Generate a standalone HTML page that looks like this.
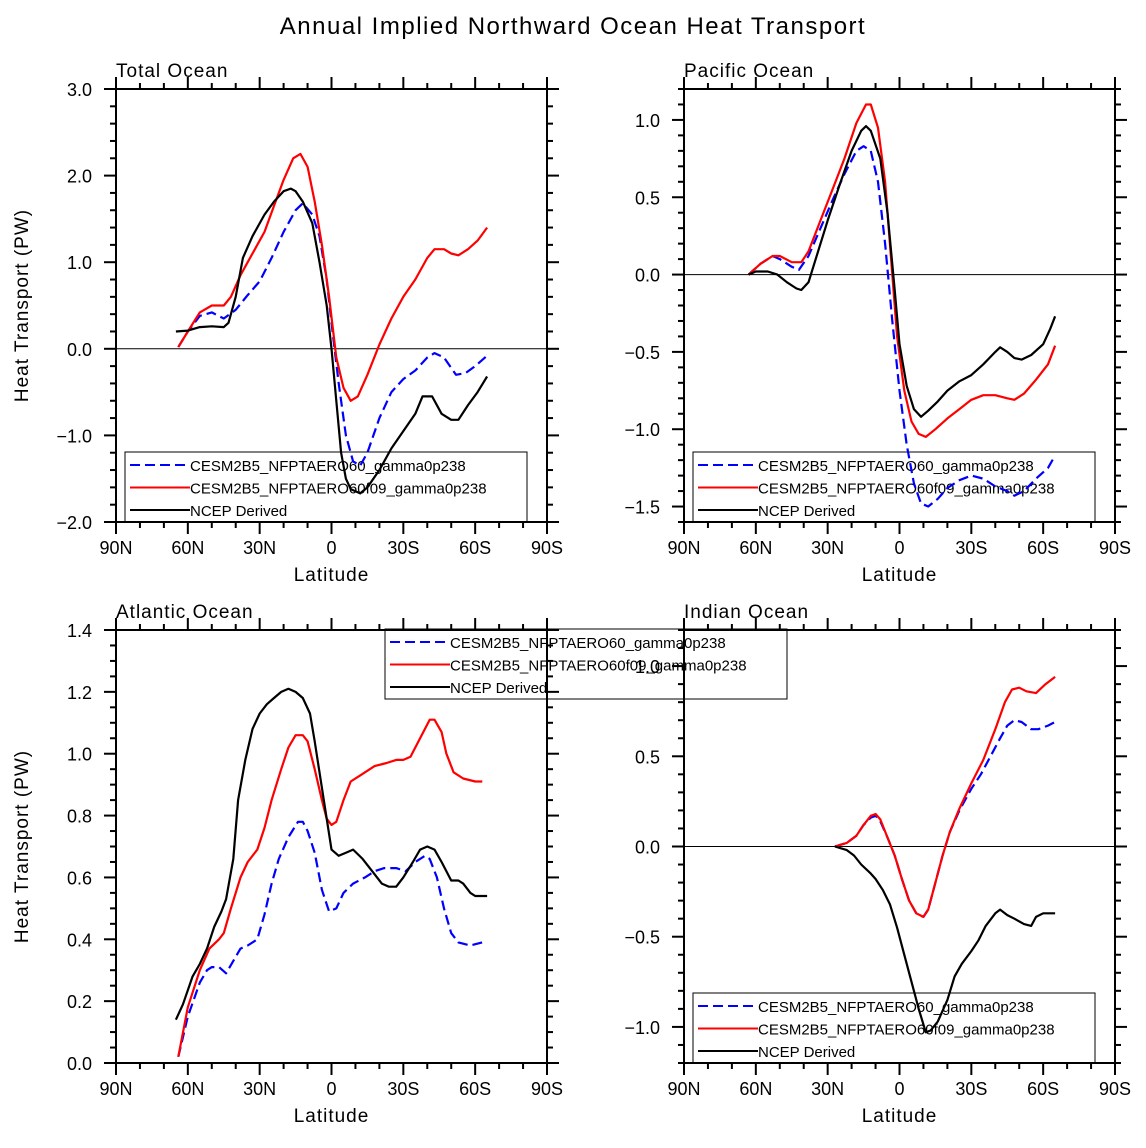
<!DOCTYPE html>
<html><head><meta charset="utf-8"><style>
body{margin:0;background:#fff}
svg{display:block;font-family:"Liberation Sans",sans-serif}
</style></head><body>
<svg id="c" width="1146" height="1148" viewBox="0 0 1146 1148" xmlns="http://www.w3.org/2000/svg">
<rect width="1146" height="1148" fill="#fff"/>
<text x="573" y="34" text-anchor="middle" font-size="24" fill="#000" letter-spacing="1.5">Annual Implied Northward Ocean Heat Transport</text>
</svg>
<script>
// Data (latitude, N positive) and values in PW
const totBlueLat=[64,60,55,50,45,40,35,30,25,20,15,12,8,5,2,0,-3,-6,-9,-12,-15,-20,-25,-30,-35,-40,-43,-47,-52,-56,-60,-65];
const totBlueVal=[0.02,0.2,0.38,0.42,0.35,0.45,0.62,0.78,1.05,1.35,1.6,1.68,1.55,1.3,0.8,0.3,-0.4,-1.0,-1.3,-1.35,-1.2,-0.8,-0.5,-0.35,-0.25,-0.1,-0.05,-0.1,-0.3,-0.28,-0.2,-0.08];
const totRedLat=[64,60,55,50,45,42,38,33,28,24,20,16,13,10,7,4,1,-2,-5,-8,-11,-15,-20,-25,-30,-35,-40,-43,-47,-50,-53,-57,-61,-65];
const totRedVal=[0.02,0.2,0.42,0.5,0.5,0.6,0.85,1.1,1.35,1.65,1.95,2.2,2.25,2.1,1.7,1.2,0.6,-0.1,-0.45,-0.6,-0.55,-0.3,0.05,0.35,0.6,0.8,1.05,1.15,1.15,1.1,1.08,1.15,1.25,1.4];
const totBlkLat=[65,60,55,50,45,43,40,37,33,28,24,20,17,15,12,8,5,2,0,-2,-4,-6,-8,-12,-15,-20,-25,-30,-35,-38,-42,-46,-50,-53,-57,-61,-65];
const totBlkVal=[0.2,0.21,0.25,0.26,0.25,0.3,0.6,1.05,1.3,1.55,1.7,1.82,1.85,1.82,1.7,1.45,1.0,0.5,0.0,-0.6,-1.2,-1.5,-1.62,-1.67,-1.6,-1.4,-1.15,-0.95,-0.75,-0.55,-0.55,-0.75,-0.82,-0.82,-0.65,-0.5,-0.32];

const pacBlueLat=[63,58,53,50,45,42,38,33,28,23,18,15,12,9,6,3,0,-3,-6,-9,-12,-16,-20,-25,-30,-35,-40,-45,-48,-52,-57,-62,-65];
const pacBlueVal=[0,0.07,0.12,0.1,0.05,0.03,0.12,0.3,0.48,0.65,0.8,0.83,0.8,0.6,0.2,-0.3,-0.75,-1.1,-1.35,-1.48,-1.5,-1.45,-1.38,-1.33,-1.3,-1.32,-1.37,-1.4,-1.43,-1.4,-1.32,-1.25,-1.17];
const pacRedLat=[63,58,53,50,45,41,38,33,28,23,18,14,12,9,6,3,1,-2,-5,-8,-11,-15,-20,-25,-30,-35,-40,-45,-48,-52,-57,-62,-65];
const pacRedVal=[0,0.07,0.12,0.12,0.08,0.08,0.15,0.35,0.55,0.75,0.98,1.1,1.1,0.95,0.6,0.0,-0.4,-0.75,-0.95,-1.03,-1.05,-1.0,-0.93,-0.87,-0.81,-0.78,-0.78,-0.8,-0.81,-0.77,-0.68,-0.58,-0.46];
const pacBlkLat=[63,60,55,51,47,43,41,38,35,30,25,20,16,14,12,8,5,2,0,-3,-6,-9,-12,-16,-20,-25,-30,-35,-40,-42,-45,-48,-51,-55,-60,-63,-65];
const pacBlkVal=[0,0.02,0.02,0,-0.05,-0.09,-0.1,-0.05,0.1,0.35,0.58,0.8,0.93,0.96,0.93,0.75,0.4,-0.1,-0.45,-0.72,-0.87,-0.92,-0.88,-0.82,-0.75,-0.69,-0.65,-0.58,-0.5,-0.47,-0.5,-0.54,-0.55,-0.52,-0.45,-0.35,-0.27];

const atlBlueLat=[64,60,55,52,50,47,44,41,38,35,31,28,25,22,18,14,12,10,7,4,1,-2,-5,-9,-14,-18,-22,-27,-31,-35,-39,-41,-44,-47,-50,-53,-58,-63];
const atlBlueVal=[0.02,0.15,0.26,0.3,0.31,0.31,0.29,0.33,0.37,0.38,0.4,0.48,0.58,0.66,0.73,0.78,0.78,0.75,0.68,0.56,0.49,0.5,0.55,0.58,0.6,0.62,0.63,0.63,0.62,0.65,0.67,0.66,0.6,0.5,0.42,0.39,0.38,0.39];
const atlRedLat=[64,60,55,51,47,45,42,38,35,31,28,25,21,18,15,12,10,7,4,2,0,-2,-5,-8,-12,-18,-23,-27,-30,-33,-37,-41,-43,-46,-48,-51,-55,-60,-63];
const atlRedVal=[0.02,0.18,0.3,0.37,0.4,0.42,0.5,0.6,0.65,0.69,0.76,0.85,0.95,1.02,1.06,1.06,1.04,0.95,0.85,0.79,0.77,0.78,0.85,0.91,0.93,0.96,0.97,0.98,0.98,0.99,1.05,1.11,1.11,1.07,1.0,0.94,0.92,0.91,0.91];
const atlBlkLat=[65,62,58,55,52,49,46,44,41,39,36,33,30,27,24,21,18,15,12,9,7,5,2,0,-3,-6,-9,-13,-17,-21,-24,-27,-30,-34,-37,-40,-43,-46,-50,-53,-55,-58,-60,-65];
const atlBlkVal=[0.14,0.19,0.28,0.32,0.37,0.44,0.49,0.53,0.66,0.85,0.98,1.08,1.13,1.16,1.18,1.2,1.21,1.2,1.18,1.13,1.04,0.94,0.79,0.69,0.67,0.68,0.69,0.66,0.62,0.58,0.57,0.57,0.6,0.65,0.69,0.7,0.69,0.65,0.59,0.59,0.58,0.55,0.54,0.54];

const indBlueLat=[27,22,18,15,12,10,8,5,2,-1,-4,-7,-10,-12,-15,-18,-21,-25,-30,-34,-38,-42,-45,-48,-51,-55,-58,-62,-65];
const indBlueVal=[0,0.02,0.06,0.12,0.16,0.17,0.14,0.05,-0.05,-0.18,-0.3,-0.37,-0.39,-0.35,-0.2,-0.05,0.08,0.2,0.32,0.4,0.5,0.6,0.67,0.7,0.69,0.65,0.65,0.67,0.69];
const indRedLat=[27,22,18,15,12,10,8,5,2,-1,-4,-7,-10,-12,-15,-18,-21,-25,-30,-35,-40,-44,-47,-50,-53,-57,-61,-65];
const indRedVal=[0,0.02,0.06,0.12,0.17,0.18,0.15,0.05,-0.05,-0.18,-0.3,-0.37,-0.39,-0.35,-0.2,-0.05,0.08,0.21,0.35,0.48,0.65,0.8,0.87,0.88,0.86,0.85,0.9,0.94];
const indBlkLat=[27,22,19,16,12,10,7,4,1,-2,-5,-8,-11,-13,-16,-20,-23,-26,-30,-33,-36,-40,-42,-45,-48,-52,-55,-57,-60,-65];
const indBlkVal=[0,-0.02,-0.05,-0.1,-0.15,-0.18,-0.24,-0.32,-0.45,-0.6,-0.75,-0.9,-1.03,-1.02,-0.97,-0.85,-0.72,-0.65,-0.58,-0.52,-0.44,-0.37,-0.35,-0.38,-0.4,-0.43,-0.44,-0.39,-0.37,-0.37];

const xTickLabels=["90N","60N","30N","0","30S","60S","90S"];
const legendLabels=["CESM2B5_NFPTAERO60_gamma0p238","CESM2B5_NFPTAERO60f09_gamma0p238","NCEP Derived"];

const NS="http://www.w3.org/2000/svg";
const svg=document.getElementById('c');
function mk(tag,attrs,parent){const e=document.createElementNS(NS,tag);for(const k in attrs)e.setAttribute(k,attrs[k]);(parent||svg).appendChild(e);return e;}

function panel(p){
  const g=mk('g',{});
  
  
  const L=p.x0,R=p.x0+431,T=p.y0,B=p.y0+433;
  const xs=lat=>L+(90-lat)/180*(R-L);
  const ys=v=>B-(v-p.ymin)/(p.ymax-p.ymin)*(B-T);
  if(p.ymin<0){const z=mk('line',{x1:L,x2:R,y1:ys(0),y2:ys(0),stroke:'#000','stroke-width':1},g);
    }
  for(let lat=90;lat>=-90;lat-=10){
    const x=xs(lat),maj=(lat%30===0),len=maj?12:6;
    mk('line',{x1:x,x2:x,y1:B,y2:B+len,stroke:'#000','stroke-width':2},g);
    mk('line',{x1:x,x2:x,y1:T,y2:T-len,stroke:'#000','stroke-width':2},g);
  }
  xTickLabels.forEach((s,i)=>{
    const t=mk('text',{x:xs(90-30*i),y:B+32,'text-anchor':'middle','font-size':18},g);t.textContent=s;
    
  });
  const nMin=Math.round((p.ymax-p.ymin)/p.minor);
  for(let i=0;i<=nMin;i++){
    const v=p.ymin+i*p.minor,y=ys(v);
    const maj=Math.abs(v/p.major-Math.round(v/p.major))<1e-6,len=maj?12:6;
    mk('line',{x1:L,x2:L-len,y1:y,y2:y,stroke:'#000','stroke-width':2},g);
    mk('line',{x1:R,x2:R+len,y1:y,y2:y,stroke:'#000','stroke-width':2},g);
    if(maj){const t=mk('text',{x:L-24,y:y+7,'text-anchor':'end','font-size':18},g);
      t.textContent=(v<0?'\u2212':'')+Math.abs(v).toFixed(1);
      }
  }
  const bx=mk('rect',{x:L,y:T,width:R-L,height:B-T,fill:'none',stroke:'#000','stroke-width':2},g);
  
  const tt=mk('text',{x:L,y:T-12,'font-size':19,'letter-spacing':1},g);tt.textContent=p.title;
  
  const xl=mk('text',{x:(L+R)/2,y:B+59,'text-anchor':'middle','font-size':19,'letter-spacing':1},g);xl.textContent='Latitude';
  
  if(p.ylab){const yl=mk('text',{x:0,y:0,'text-anchor':'middle','font-size':19,'letter-spacing':1,transform:`translate(28,${(T+B)/2}) rotate(-90)`},g);
    yl.textContent='Heat Transport (PW)';}
  const styles=[{c:'#0000ff',d:'10,5'},{c:'#ff0000',d:''},{c:'#000000',d:''}];
  // legend (transparent, drawn under curves)
  const lg=mk('g',{},g);
  
  
  mk('rect',{x:p.lx,y:p.ly,width:402,height:70,fill:'none',stroke:'#000','stroke-width':1},lg);
  legendLabels.forEach((s,i)=>{
    const y=p.ly+13+i*22.5;
    mk('line',{x1:p.lx+5,x2:p.lx+65,y1:y,y2:y,stroke:styles[i].c,'stroke-width':2,'stroke-dasharray':styles[i].d},lg);
    const t=mk('text',{x:p.lx+65,y:y+6,'font-size':15},lg);t.textContent=s;
    
  });
  p.series.forEach((s,i)=>{
    const pts=s[0].map((lat,j)=>xs(lat).toFixed(1)+','+ys(s[1][j]).toFixed(1)).join(' ');
    const pl=mk('polyline',{points:pts,fill:'none',stroke:styles[i].c,'stroke-width':2.2,'stroke-dasharray':styles[i].d,'stroke-linejoin':'round'},g);
    
    
  });
}

panel({name:'total-ocean-panel',title:'Total Ocean',x0:116,y0:89,ymin:-2,ymax:3,major:1,minor:0.2,ylab:true,lx:125,ly:452,
  series:[[totBlueLat,totBlueVal],[totRedLat,totRedVal],[totBlkLat,totBlkVal]]});
panel({name:'pacific-ocean-panel',title:'Pacific Ocean',x0:684,y0:89,ymin:-1.6,ymax:1.2,major:0.5,minor:0.1,ylab:false,lx:693,ly:452,
  series:[[pacBlueLat,pacBlueVal],[pacRedLat,pacRedVal],[pacBlkLat,pacBlkVal]]});
panel({name:'indian-ocean-panel',title:'Indian Ocean',x0:684,y0:630,ymin:-1.2,ymax:1.2,major:0.5,minor:0.1,ylab:false,lx:693,ly:993,
  series:[[indBlueLat,indBlueVal],[indRedLat,indRedVal],[indBlkLat,indBlkVal]]});
panel({name:'atlantic-ocean-panel',title:'Atlantic Ocean',x0:116,y0:630,ymin:0,ymax:1.4,major:0.2,minor:0.05,ylab:true,lx:385,ly:629,
  series:[[atlBlueLat,atlBlueVal],[atlRedLat,atlRedVal],[atlBlkLat,atlBlkVal]]});
</script>
</body></html>
